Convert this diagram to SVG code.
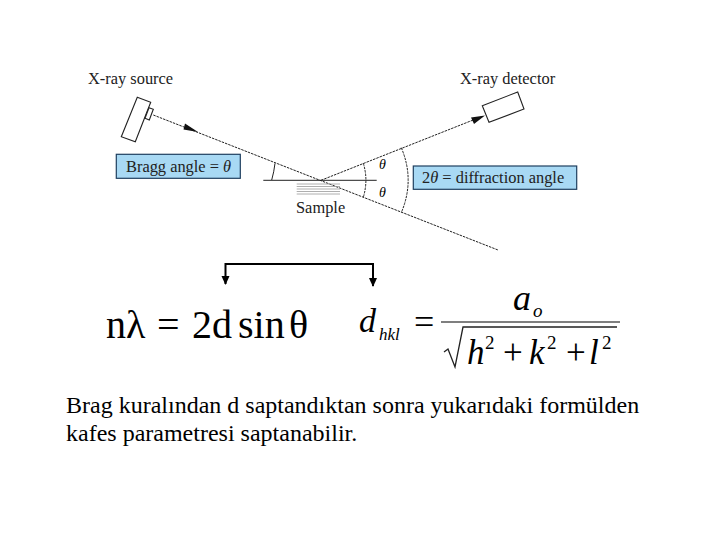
<svg xmlns="http://www.w3.org/2000/svg" width="720" height="540" viewBox="0 0 720 540">
<style>
text{font-family:"Liberation Serif","Times New Roman",serif;fill:#000}
.lab{font-size:16.4px;fill:#222}
.thin{fill:none;stroke:#222;stroke-width:1}
.dash{fill:none;stroke:#222;stroke-width:1;stroke-dasharray:2.5 1}
.box{fill:#a8d9f4;stroke:#1f3f5f;stroke-width:1.2}
.dev{fill:#fff;stroke:#222;stroke-width:1.1}
.eq{font-size:40px}
.it{font-style:italic}
.body{font-size:24px}
.br{fill:none;stroke:#000;stroke-width:2}
</style>
<defs>
<marker id="ah" markerUnits="userSpaceOnUse" markerWidth="10" markerHeight="10" refX="8" refY="4" orient="auto"><path d="M0 0L9 4L0 8z" fill="#000"/></marker>
</defs>
<rect width="720" height="540" fill="#fff"/>
<g id="connectors">
<path class="dash" d="M153.300 115L498 250"/>
<path d="M185 123.500L198 132L183.500 129.500z" fill="#111"/>
<path class="dash" d="M321 180.300L482 116.500"/>
<path d="M471 117.500L485 115.500L474 124z" fill="#111"/>
<path class="thin" d="M263.300 180.300H376.700"/>
<path class="thin" d="M275 163.300Q274 172 271.700 180"/>
<path class="dash" d="M363.300 163.300Q368.500 180 363.300 197.300"/>
<path class="dash" d="M401.300 147.700Q415 180 401.300 212.700"/>
<path class="br" marker-end="url(#ah)" d="M299 264H225.500V284"/>
<path class="br" marker-end="url(#ah)" d="M299 264H373V286"/>
</g>
<g id="sample">
<path d="M296.700 184H340M296.700 186.500H340M296.700 189H340M296.700 191.500H340M296.700 194H340" fill="none" stroke="#999" stroke-width=".8"/>
<text class="lab" x="296" y="213">Sample</text>
</g>
<g id="source">
<path class="dev" d="M137.300 97.300L150.700 102.300L135.300 141.700L121.300 136.700z"/>
<path class="dev" d="M149 107.700L153.300 109.300L149.300 120L145 118.300z"/>
<text class="lab" x="88" y="84">X-ray source</text>
</g>
<g id="detector">
<path class="dev" d="M482.300 105.700L517.700 92L524 109L489 122.300z"/>
<text class="lab" x="460" y="84">X-ray detector</text>
</g>
<g id="bragg">
<rect class="box" x="116.300" y="154.300" width="124" height="24"/>
<text class="lab" x="126" y="172">Bragg angle = <tspan class="it">θ</tspan></text>
</g>
<g id="diffraction">
<rect class="box" x="413.300" y="166" width="163.400" height="23.300"/>
<text class="lab" x="422" y="183">2<tspan class="it">θ</tspan> = diffraction angle</text>
</g>
<g id="angles">
<text class="it" font-size="14" x="379" y="169" fill="#222">θ</text>
<text class="it" font-size="14" x="379" y="197" fill="#222">θ</text>
</g>
<g id="bragg-law">
<text class="eq" x="106" y="338">nλ</text>
<text class="eq" x="157" y="338">=</text>
<text class="eq" x="192" y="338">2d</text>
<text class="eq" x="238" y="338">sin</text>
<text class="eq" x="289" y="338">θ</text>
</g>
<g id="lattice">
<text class="it" font-size="34" x="359" y="332">d</text>
<text class="it" font-size="17" x="379" y="340">hkl</text>
<text font-size="36" x="414" y="334" fill="#333">=</text>
<path d="M441 322H620" stroke="#555" stroke-width="1.500" fill="none"/>
<text class="it" font-size="36" x="513" y="310">a</text>
<text class="it" font-size="19" x="533" y="317">o</text>
<path d="M444 352L448 349L455 367L463 327H617" fill="none" stroke="#222" stroke-width="1.300"/>
<text class="it" font-size="35" x="467" y="364">h</text>
<text font-size="19" x="485" y="349">2</text>
<text font-size="35" x="503" y="364">+</text>
<text class="it" font-size="35" x="529" y="364">k</text>
<text font-size="19" x="547" y="349">2</text>
<text font-size="35" x="566" y="364">+</text>
<text class="it" font-size="35" x="589" y="364">l</text>
<text font-size="19" x="602" y="349">2</text>
</g>
<g id="caption">
<text class="body" x="66" y="413">Brag kuralından d saptandıktan sonra yukarıdaki formülden</text>
<text class="body" x="66" y="441">kafes parametresi saptanabilir.</text>
</g>
</svg>
